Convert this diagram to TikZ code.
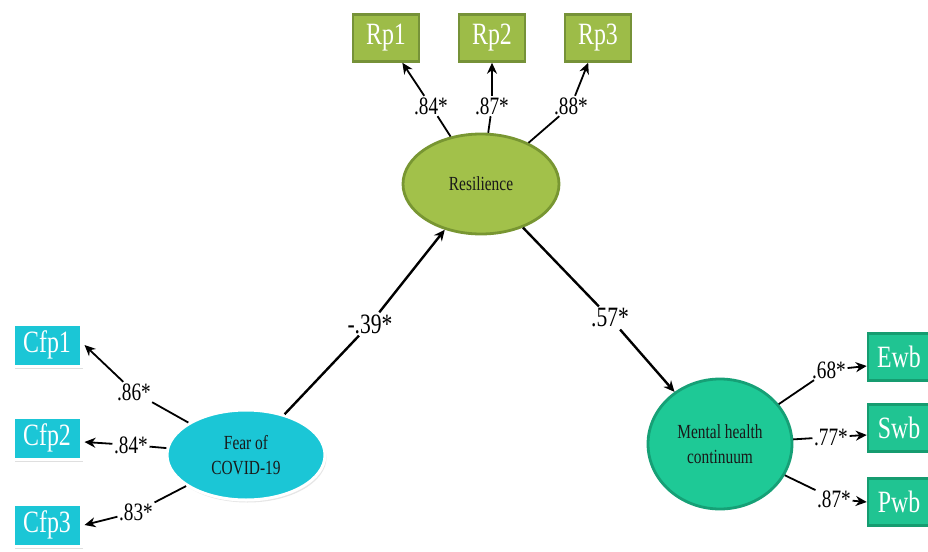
\documentclass[tikz,border=0pt]{standalone}
\usepackage{fontspec}
\setmainfont{Liberation Serif}[FakeStretch=0.77]
\usetikzlibrary{arrows.meta,shapes.geometric,shadows}
\definecolor{rpfill}{RGB}{157,188,72}
\definecolor{rpdraw}{RGB}{118,146,56}
\definecolor{resfill}{RGB}{162,193,74}
\definecolor{resdraw}{RGB}{120,150,50}
\definecolor{cyfill}{RGB}{27,198,214}
\definecolor{mhfill}{RGB}{30,201,150}
\definecolor{mhdraw}{RGB}{22,160,118}
\definecolor{wbfill}{RGB}{32,196,146}
\definecolor{wbdraw}{RGB}{22,156,112}
\tikzset{
  rpbox/.style={rectangle, fill=rpfill, draw=rpdraw, line width=2.5pt, minimum width=66pt, minimum height=47pt, text=white, font=\fontsize{31}{31}\selectfont},
  cfpbox/.style={rectangle, fill=cyfill, draw=white, line width=3pt, minimum width=68pt, minimum height=42pt, text=white, font=\fontsize{31}{31}\selectfont, drop shadow={opacity=0.25, shadow xshift=1.5pt, shadow yshift=-2.5pt}},
  wbbox/.style={rectangle, fill=wbfill, draw=wbdraw, line width=2.5pt, minimum width=62pt, minimum height=47pt, text=white, font=\fontsize{31}{31}\selectfont},
  latent/.style={ellipse, text=black!90, font=\fontsize{20}{25}\selectfont, align=center, inner sep=0pt},
  lbl/.style={inner sep=1.5pt, font=\fontsize{25}{25}\selectfont},
  biglbl/.style={inner sep=2pt, font=\fontsize{28}{28}\selectfont},
  path/.style={line width=2.4pt},
  load/.style={line width=1.8pt},
  tip/.style={-{Stealth[length=11pt,width=10pt]}}
}
\begin{document}
\begin{tikzpicture}[x=1pt,y=-1pt]
\useasboundingbox (0,0) rectangle (928,551);
% latent variables
\node[latent, fill=resfill, draw=resdraw, line width=2.8pt, minimum width=156pt, minimum height=100pt] (res) at (481,184) {Resilience};
\node[latent, fill=cyfill, draw=white, line width=3pt, minimum width=158pt, minimum height=90pt, drop shadow={opacity=0.2, shadow xshift=1.5pt, shadow yshift=-2.5pt}] (fear) at (246,455) {Fear of\\COVID-19};
\node[latent, fill=mhfill, draw=mhdraw, line width=2.8pt, minimum width=144pt, minimum height=130pt] (mh) at (720,444) {Mental health\\continuum};
% indicators
\node[rpbox] (rp1) at (386,38) {Rp1};
\node[rpbox] (rp2) at (492,38) {Rp2};
\node[rpbox] (rp3) at (598,38) {Rp3};
\node[cfpbox] (cfp1) at (47,345) {Cfp1};
\node[cfpbox] (cfp2) at (47,438) {Cfp2};
\node[cfpbox] (cfp3) at (47,525) {Cfp3};
\node[wbbox] (ewb) at (899,357) {Ewb};
\node[wbbox] (swb) at (899,428) {Swb};
\node[wbbox] (pwb) at (899,502) {Pwb};
% labels
\node[lbl] (l1) at (431,106) {.84*};
\node[lbl] (l2) at (492,106) {.87*};
\node[lbl] (l3) at (571,106) {.88*};
\node[lbl] (l4) at (134,392) {.86*};
\node[lbl] (l5) at (131,445) {.84*};
\node[lbl] (l6) at (136,512) {.83*};
\node[lbl] (l7) at (829,370) {.68*};
\node[lbl] (l8) at (831,437) {.77*};
\node[lbl] (l9) at (834,499) {.87*};
\node[biglbl] (la) at (370,324) {-.39*};
\node[biglbl] (lb) at (610,318) {.57*};
% structural paths
\draw[path] (fear) -- (la);
\draw[path,tip] (la) -- (res);
\draw[path] (res) -- (lb);
\draw[path,tip] (lb) -- (mh);
% loadings
\draw[load] (res) -- (l1);
\draw[load,tip] (l1) -- (rp1);
\draw[load] (res) -- (l2);
\draw[load,tip] (l2) -- (rp2);
\draw[load] (res) -- (l3);
\draw[load,tip] (l3) -- (rp3);
\draw[load] (fear) -- (l4);
\draw[load,tip] (l4) -- ([xshift=2pt]cfp1.east);
\draw[load] (fear) -- (l5);
\draw[load,tip] (l5) -- ([xshift=2pt,yshift=-4pt]cfp2.east);
\draw[load] (fear) -- (l6);
\draw[load,tip] (l6) -- ([xshift=2pt]cfp3.east);
\draw[load] (mh) -- (l7);
\draw[load,tip] (l7) -- ([yshift=-9pt]ewb.west);
\draw[load] (mh) -- (l8);
\draw[load,tip] (l8) -- ([yshift=-7pt]swb.west);
\draw[load] (mh) -- (l9);
\draw[load,tip] (l9) -- (pwb.west);
\end{tikzpicture}
\end{document}
